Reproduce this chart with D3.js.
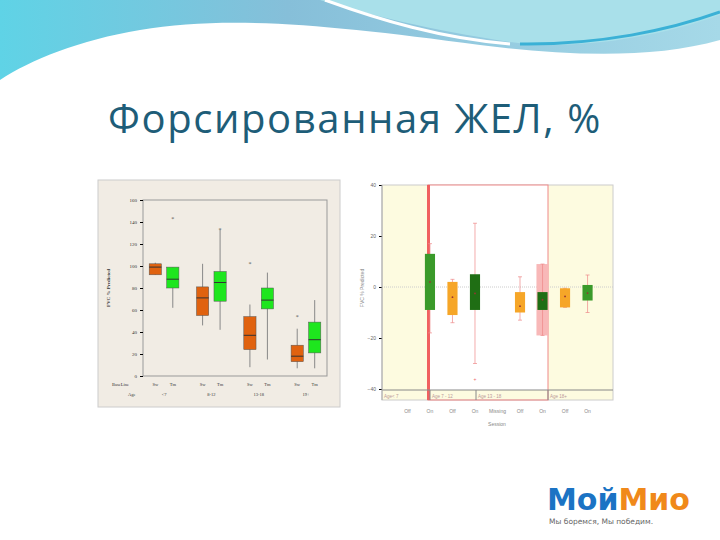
<!DOCTYPE html>
<html><head><meta charset="utf-8">
<script src="https://cdn.jsdelivr.net/npm/d3@7"></script>
<style>body{margin:0;background:#fff}svg{display:block;font-family:"Liberation Sans"}</style>
</head><body><svg id="s" width="720" height="540"></svg>
<script>
// left chart data: [group, cat, min, q1, median, q3, max, outlier]
var leftGroups = ["<7", "8-12", "13-18", "19+"];
var leftCats = ["Sw", "Tm"];
var leftTicks = [0, 20, 40, 60, 80, 100, 120, 140, 160];
var leftBoxes = [
  ["<7", "Sw", 92, 92, 99, 102, 103, null],
  ["<7", "Tm", 62, 80, 88, 99, 99, 143],
  ["8-12", "Sw", 46, 55, 71, 81, 102, null],
  ["8-12", "Tm", 42, 68, 85, 95, 133, 133],
  ["13-18", "Sw", 8, 24, 37, 54, 65, 102],
  ["13-18", "Tm", 15, 61, 69, 80, 94, null],
  ["19+", "Sw", 7, 13, 18, 28, 43, 54],
  ["19+", "Tm", 7, 21, 33, 49, 69, null]
];
// right chart data
var rightCats = ["Off0", "On0", "Off1", "On1", "Missing", "Off2", "On2", "Off3", "On3"];
var rightLabels = ["Off", "On", "Off", "On", "Missing", "Off", "On", "Off", "On"];
var rightTicks = [-40, -20, 0, 20, 40];
var rightBoxes = [
  ["On0", "g", -18, -9, 2, 13, 17],
  ["Off1", "o", -14, -11, -4, 2, 3],
  ["On1", "d", -30, -9, -2.5, 5, 25],
  ["Off2", "o", -13, -10, -7.5, -2, 4],
  ["On2", "d", -19, -9, -5, -2, 9],
  ["Off3", "o", -8, -8, -3.7, -0.5, -0.5],
  ["On3", "g", -10, -5.3, -2.4, 0.8, 4.7]
];
var ageBands = ["Age< 7", "Age 7 - 12", "Age 13 - 18", "Age 18+"];

var svg = d3.select("#s");

// header waves
var defs = svg.append("defs");
var gr = defs.append("linearGradient").attr("id", "wv").attr("x1", 0).attr("x2", 1);
gr.append("stop").attr("offset", 0).attr("stop-color", "#5fd3e6");
gr.append("stop").attr("offset", 0.4).attr("stop-color", "#86bfd9");
gr.append("stop").attr("offset", 1).attr("stop-color", "#a6d9e8");
svg.append("path").attr("d", "M0,0H720V40C650,60 560,55 480,45 C330,25 230,15 140,30 C80,40 30,60 0,80Z").attr("fill", "url(#wv)");
svg.append("path").attr("d", "M320,0H720V15C650,40 570,50 510,42 C430,30 370,15 320,0Z").attr("fill", "#a9e0ea");
svg.append("path").attr("d", "M325,0C380,20 440,38 510,44").attr("fill", "none").attr("stroke", "#fff").attr("stroke-width", 3);
svg.append("path").attr("d", "M520,44C600,45 670,30 720,12").attr("fill", "none").attr("stroke", "#3bb1d6").attr("stroke-width", 3);

svg.append("text").attr("x", 108).attr("y", 133).attr("font-family", "Open Sans").attr("font-size", 40)
  .attr("letter-spacing", 1.6).attr("fill", "#1e5d78").text("Форсированная ЖЕЛ, %");

// ---------- left chart ----------
svg.append("rect").attr("x", 98).attr("y", 180).attr("width", 242).attr("height", 227).attr("fill", "#f1ece4").attr("stroke", "#ccc");
var ly = d3.scaleLinear().domain([0, 160]).range([376, 200]);
var lx0 = d3.scaleBand().domain(leftGroups).range([143, 327]).paddingInner(0.15).paddingOuter(0.02);
var lx1 = d3.scaleBand().domain(leftCats).range([0, lx0.bandwidth()]).padding(0.3);
var lg = svg.append("g").attr("font-family", "Liberation Serif");
lg.append("rect").attr("x", 143).attr("y", 200).attr("width", 184).attr("height", 176).attr("fill", "#f1ece4").attr("stroke", "#999");
lg.append("g").attr("transform", "translate(143,0)").call(d3.axisLeft(ly).tickValues(leftTicks).tickSize(3))
  .call(function(a){a.select(".domain").remove(); a.selectAll("text").attr("font-size", 5).attr("fill", "#333").attr("font-family", "Liberation Serif");});
leftBoxes.forEach(function(b){
  var x = lx0(b[0]) + lx1(b[1]), w = lx1.bandwidth(), cx = x + w / 2;
  var col = b[1] == "Sw" ? "#e0620f" : "#1ee61e";
  lg.append("line").attr("x1", cx).attr("x2", cx).attr("y1", ly(b[2])).attr("y2", ly(b[6])).attr("stroke", "#888");
  lg.append("rect").attr("x", x).attr("y", ly(b[5])).attr("width", w).attr("height", ly(b[3]) - ly(b[5])).attr("fill", col).attr("stroke", "#555").attr("stroke-width", 0.5);
  lg.append("line").attr("x1", x).attr("x2", x + w).attr("y1", ly(b[4])).attr("y2", ly(b[4])).attr("stroke", "#333");
  if (b[7] != null) lg.append("text").attr("x", cx).attr("y", ly(b[7]) + 2).attr("text-anchor", "middle").attr("font-size", 6).attr("fill", "#555").text("*");
  lg.append("text").attr("x", cx).attr("y", 386).attr("text-anchor", "middle").attr("font-size", 4.5).attr("fill", "#333").text(b[1]);
});
leftGroups.forEach(function(g){
  lg.append("text").attr("x", lx0(g) + lx0.bandwidth() / 2).attr("y", 396).attr("text-anchor", "middle").attr("font-size", 4.5).attr("fill", "#333").text(g);
});
lg.append("text").attr("x", 112).attr("y", 386).attr("font-size", 4.5).attr("fill", "#333").text("BaseLine");
lg.append("text").attr("x", 128).attr("y", 396).attr("font-size", 4.5).attr("fill", "#333").text("Age");
lg.append("text").attr("transform", "translate(110,288) rotate(-90)").attr("text-anchor", "middle").attr("font-size", 5).attr("font-weight", "bold").attr("fill", "#333").text("FVC % Predicted");

// ---------- right chart ----------
var ry = d3.scaleLinear().domain([-40, 40]).range([389, 185]);
var rx = d3.scaleBand().domain(rightCats).range([390, 605]).padding(0.55);
var rg = svg.append("g");
rg.append("rect").attr("x", 382).attr("y", 185).attr("width", 231).attr("height", 215).attr("fill", "#fdfbe0").attr("stroke", "#ccc");
rg.append("rect").attr("x", 428).attr("y", 185).attr("width", 120).attr("height", 205).attr("fill", "#fff");
rg.append("rect").attr("x", 428).attr("y", 185).attr("width", 120).attr("height", 215).attr("fill", "none").attr("stroke", "#e88").attr("stroke-width", 1);
rg.append("rect").attr("x", 427).attr("y", 185).attr("width", 3).attr("height", 215).attr("fill", "#f06060");
rg.append("line").attr("x1", 382).attr("x2", 613).attr("y1", 390).attr("y2", 390).attr("stroke", "#888");
rg.append("line").attr("x1", 382).attr("x2", 613).attr("y1", ry(0)).attr("y2", ry(0)).attr("stroke", "#ccc").attr("stroke-dasharray", "1,1");
rg.append("g").attr("transform", "translate(382,0)").call(d3.axisLeft(ry).tickValues(rightTicks).tickSize(3))
  .call(function(a){a.select(".domain").remove(); a.selectAll("text").attr("font-size", 5).attr("fill", "#666");});
rg.append("line").attr("x1", 382).attr("x2", 382).attr("y1", 185).attr("y2", 400).attr("stroke", "#aaa");
// red shaded band over On2
var on2 = rightBoxes[4];
rg.append("rect").attr("x", rx("On2") - 1).attr("y", ry(on2[6])).attr("width", rx.bandwidth() + 2).attr("height", ry(on2[2]) - ry(on2[6])).attr("fill", "#f8b8b8");
var rcol = {g: "#3a9a2a", d: "#1f6e14", o: "#f6a628"};
rightBoxes.forEach(function(b){
  var x = rx(b[0]), w = rx.bandwidth(), cx = x + w / 2;
  rg.append("line").attr("x1", cx).attr("x2", cx).attr("y1", ry(b[2])).attr("y2", ry(b[6])).attr("stroke", "#e88").attr("stroke-width", 0.7);
  [b[2], b[6]].forEach(function(v){
    rg.append("line").attr("x1", cx - 2).attr("x2", cx + 2).attr("y1", ry(v)).attr("y2", ry(v)).attr("stroke", "#e88").attr("stroke-width", 0.7);
  });
  rg.append("rect").attr("x", x).attr("y", ry(b[5])).attr("width", w).attr("height", ry(b[3]) - ry(b[5])).attr("fill", rcol[b[1]]);
  rg.append("circle").attr("cx", cx).attr("cy", ry(b[4])).attr("r", 0.9).attr("fill", "#933");
});
rg.append("text").attr("x", rx("On1") + rx.bandwidth() / 2).attr("y", ry(-36) + 2).attr("text-anchor", "middle").attr("font-size", 5).attr("fill", "#e66").text("+");
var bandX = [382, 430, 476, 548, 613];
ageBands.forEach(function(a, i){
  rg.append("text").attr("x", bandX[i] + 2).attr("y", 398).attr("font-size", 4.5).attr("fill", "#b99").text(a);
  if (i > 0) rg.append("line").attr("x1", bandX[i]).attr("x2", bandX[i]).attr("y1", 390).attr("y2", 400).attr("stroke", "#888");
});
rightCats.forEach(function(c, i){
  rg.append("text").attr("x", rx(c) + rx.bandwidth() / 2).attr("y", 413).attr("text-anchor", "middle").attr("font-size", 5).attr("fill", "#888").text(rightLabels[i]);
});
rg.append("text").attr("x", 497).attr("y", 426).attr("text-anchor", "middle").attr("font-size", 5).attr("fill", "#888").text("Session");
rg.append("text").attr("transform", "translate(364,288) rotate(-90)").attr("text-anchor", "middle").attr("font-size", 5).attr("fill", "#888").text("FVC % Predicted");

// logo
var logo = svg.append("text").attr("x", 547).attr("y", 510).attr("font-family", "DejaVu Sans").attr("font-weight", "bold").attr("font-size", 30);
logo.append("tspan").attr("fill", "#1b73c4").text("Мой");
logo.append("tspan").attr("fill", "#f0891a").text("Мио");
svg.append("text").attr("x", 549).attr("y", 524).attr("font-family", "DejaVu Sans").attr("font-size", 7.5).attr("fill", "#666").text("Мы боремся, Мы победим.");
</script></body></html>
